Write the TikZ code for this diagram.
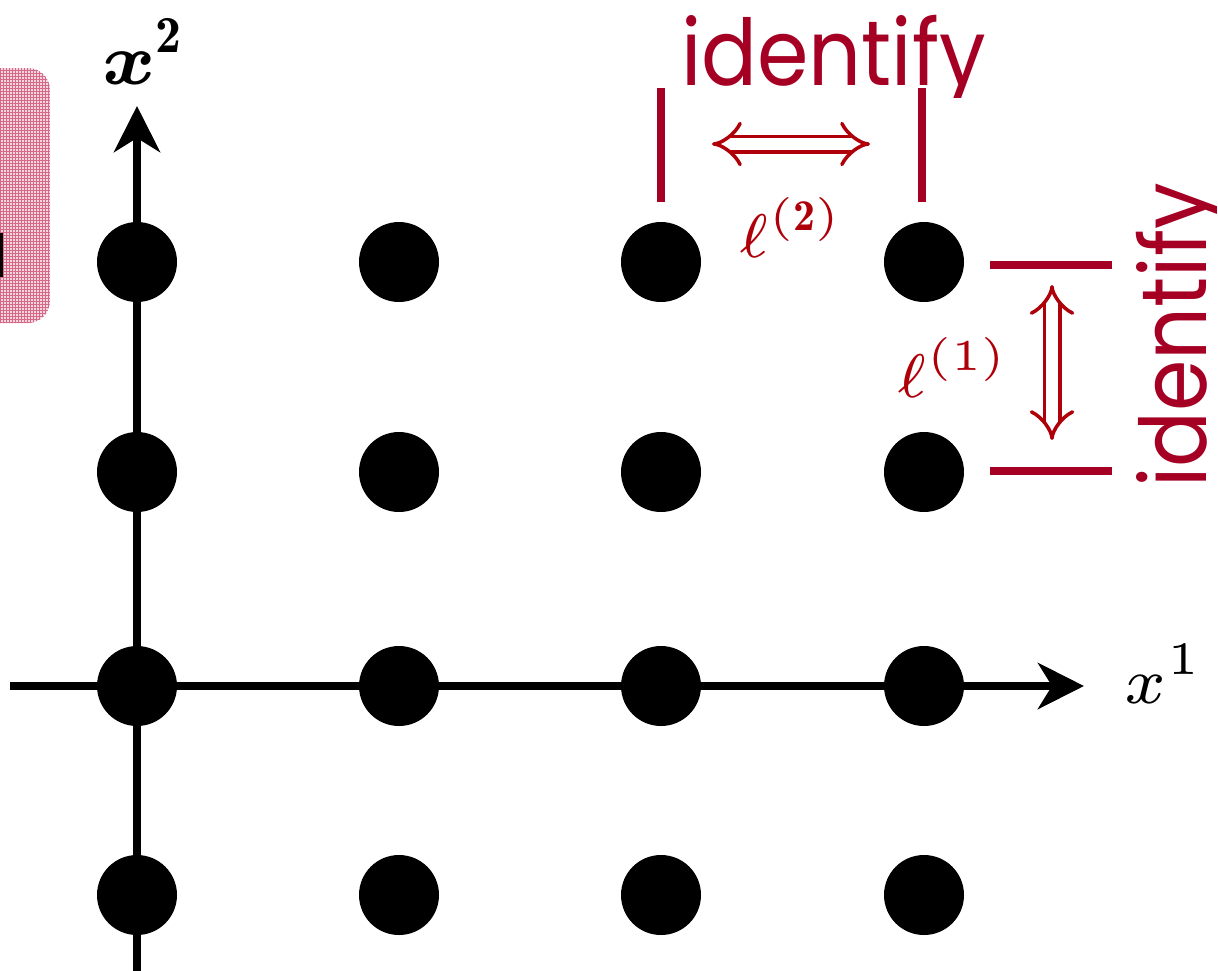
\RequirePackage{fix-cm}
\documentclass[tikz,border=0pt]{standalone}
\usepackage{fontspec}
\newfontfamily\idfont{Poppins}
\usetikzlibrary{arrows.meta,patterns}
\DeclareMathAlphabet{\mathbit}{OML}{cmm}{b}{it}
\newcommand\fssmall{\fontsize{7}{8}\selectfont}
\newcommand\fsid{\idfont\fontsize{92}{100}\selectfont}
\definecolor{idred}{RGB}{165,0,35}
\definecolor{lred}{RGB}{175,0,10}
\definecolor{pinkbg}{RGB}{244,214,222}
\definecolor{pinkline}{RGB}{214,105,135}
\tikzset{
  dot/.style={circle,fill=black,minimum size=80pt,inner sep=0pt},
  axis/.style={line width=8pt,-{Stealth[length=46pt,width=46pt,inset=14pt]}},
  bar/.style={idred,line width=8pt},
  dbl/.style={lred,double=white,double distance=12pt,line width=3.5pt,{Implies[length=18pt,width=52pt]}-{Implies[length=18pt,width=52pt]}},
  idtext/.style={idred,font=\fsid,inner sep=0pt,xscale=0.9},
  mlab/.style={inner sep=0pt,font=\fssmall,transform shape},
}
\begin{document}
\begin{tikzpicture}[x=1pt,y=-1pt]
\useasboundingbox (0,0) rectangle (1218,970);
% pink box
\fill[pinkbg,rounded corners=22pt] (-60,68) rectangle (50,323);
\fill[pattern=grid,pattern color=pinkline,rounded corners=22pt] (-60,68) rectangle (50,323);
\fill[black] (0,233) rectangle (3,277);
% axes
\coordinate (hstart) at (10,686);
\coordinate (hend) at (1084,686);
\coordinate (vstart) at (137,975);
\coordinate (vend) at (137,106);
\draw[axis] (hstart) -- (hend);
\draw[axis] (vstart) -- (vend);
% dots
\foreach \c/\xx in {1/137,2/399,3/661,4/924}{
  \foreach \r/\yy in {1/262,2/472,3/686,4/895}{
    \node[dot] (d\r\c) at (\xx,\yy) {};
  }
}
% axis labels
\node[mlab,anchor=base west,scale=10.4] (lx2) at (100,84) {$\mathbit{x}^{\mathbf{2}}$};
\node[mlab,anchor=base west,scale=9.3] (lx1) at (1123,703) {$x^{1}$};
% top identify
\coordinate (b1t) at (661,88); \coordinate (b1b) at (661,202);
\coordinate (b2t) at (922,88); \coordinate (b2b) at (922,202);
\draw[bar] (b1t) -- (b1b);
\draw[bar] (b2t) -- (b2b);
\coordinate (a1l) at (712,144); \coordinate (a1r) at (870,144);
\draw[dbl] (a1l) -- (a1r);
\begin{scope}
\clip (600,0) rectangle (1100,97);
\node[idtext,anchor=base west] (idtop) at (681,85) {identify};
\end{scope}
\node[mlab,anchor=base west,lred,scale=8.8] (l2) at (738,257) {$\ell^{(\mathbf{2})}$};
% right identify
\coordinate (h1l) at (990,265); \coordinate (h1r) at (1112,265);
\coordinate (h2l) at (990,471); \coordinate (h2r) at (1112,471);
\draw[bar] (h1l) -- (h1r);
\draw[bar] (h2l) -- (h2r);
\coordinate (a2t) at (1052,285); \coordinate (a2b) at (1052,440);
\draw[dbl] (a2t) -- (a2b);
\begin{scope}
\clip (1120,150) rectangle (1216,520);
\node[rotate=90,idtext,anchor=base west] (idright) at (1206,488) {identify};
\end{scope}
\node[mlab,anchor=base west,lred,scale=8.8] (l1) at (896,397) {$\ell^{(1)}$};
\end{tikzpicture}
\end{document}
